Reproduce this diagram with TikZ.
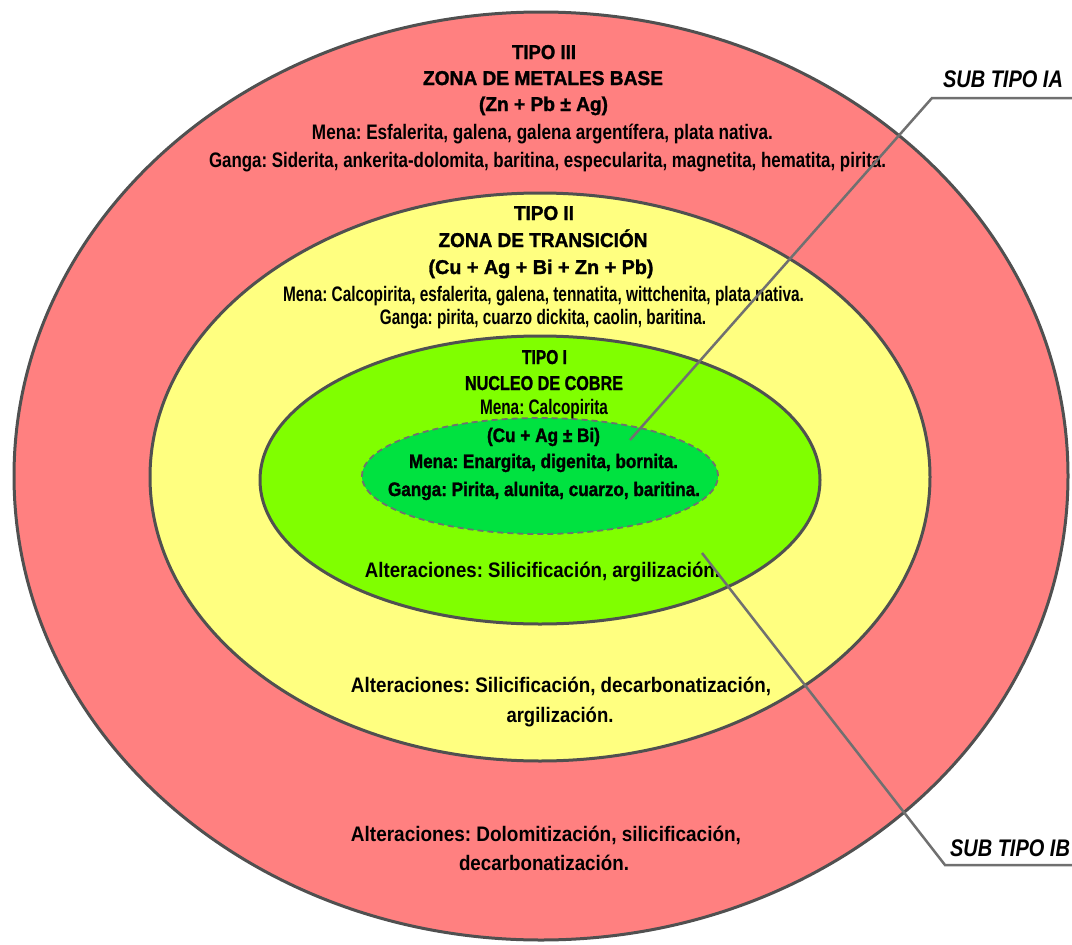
\documentclass[tikz,border=0pt]{standalone}
\usepackage{fontspec}
\usepackage{graphicx}
\setmainfont{Liberation Sans}
\newfontfamily\mdf{Liberation Sans}
\newfontfamily\bdf[FakeBold=1.5]{Liberation Sans}
\frenchspacing
% set a line at its natural height, stretched or squeezed to a given width
\newcommand\fitw[2]{\resizebox{#1pt}{\height}{#2}}
\definecolor{zonered}{RGB}{255,128,128}
\definecolor{zoneyellow}{RGB}{255,255,128}
\definecolor{zonegreen}{RGB}{128,255,0}
\definecolor{coregreen}{RGB}{0,226,64}
\definecolor{edgegray}{RGB}{80,80,80}
\definecolor{leadgray}{RGB}{112,112,112}
\tikzset{
  zone/.style={draw=edgegray, line width=3pt},
  core/.style={draw=leadgray, line width=1.8pt, dash pattern=on 6pt off 4pt},
  txt/.style={anchor=base, inner sep=0pt, text=black},
  ttl/.style={txt, font=\bdf\bfseries\fontsize{20}{20}\selectfont},
  bod/.style={txt, font=\mdf\bfseries\fontsize{21}{21}\selectfont},
  bbod/.style={txt, font=\bdf\bfseries\fontsize{19.5}{19.5}\selectfont},
  lbl/.style={txt, font=\mdf\bfseries\itshape\fontsize{24}{24}\selectfont},
  leader/.style={draw=leadgray, line width=2.5pt, line join=miter}
}
\begin{document}
\begin{tikzpicture}[x=1pt, y=-1pt]
\useasboundingbox (0,0) rectangle (1072,945);
\fill[white] (0,0) rectangle (1072,945);

% nested zones
\draw[zone, fill=zonered]    (541,476) ellipse [x radius=527pt, y radius=464pt];
\draw[zone, fill=zoneyellow] (540,477) ellipse [x radius=390pt, y radius=284pt];
\draw[zone, fill=zonegreen]  (540,480) ellipse [x radius=280pt, y radius=144pt];
\draw[core, fill=coregreen]  (540,476) ellipse [x radius=178pt, y radius=58pt];

% type III: base metals
\node[ttl] (t3a) at (544,59)  {\fitw{64}{TIPO III}};
\node[ttl] (t3b) at (543,85)  {\fitw{240}{ZONA DE METALES BASE}};
\node[ttl] (t3c) at (543.5,111) {\fitw{129}{(Zn + Pb ± Ag)}};
\node[bod] (t3d) at (542.5,139) {\fitw{461}{Mena: Esfalerita, galena, galena argentífera, plata nativa.}};
\node[bod] (t3e) at (547.5,167) {\fitw{677}{Ganga: Siderita, ankerita-dolomita, baritina, especularita, magnetita, hematita, pirita.}};

% type II: transition
\node[ttl] (t2a) at (544,220) {\fitw{60}{TIPO II}};
\node[ttl] (t2b) at (543,247) {\fitw{209}{ZONA DE TRANSICIÓN}};
\node[ttl] (t2c) at (541,274) {\fitw{225}{(Cu + Ag + Bi + Zn + Pb)}};
\node[bod] (t2d) at (543.5,301) {\fitw{521}{Mena: Calcopirita, esfalerita, galena, tennatita, wittchenita, plata nativa.}};
\node[bod] (t2e) at (543,324) {\fitw{326}{Ganga: pirita, cuarzo dickita, caolin, baritina.}};

% type I: copper core
\node[ttl] (t1a) at (544.5,364) {\fitw{45}{TIPO I}};
\node[ttl] (t1b) at (544,390) {\fitw{158}{NUCLEO DE COBRE}};
\node[bod] (t1c) at (544,414) {\fitw{128}{Mena: Calcopirita}};
\node[bbod] (t1d) at (543.5,442) {\fitw{113}{(Cu + Ag ± Bi)}};
\node[bbod] (t1e) at (543.5,468) {\fitw{269}{Mena: Enargita, digenita, bornita.}};
\node[bbod] (t1f) at (544,496) {\fitw{312}{Ganga: Pirita, alunita, cuarzo, baritina.}};

% alterations per zone
\node[bod] (a1) at (542.5,577) {\fitw{355}{Alteraciones: Silicificación, argilización.}};
\node[bod] (a2a) at (561,692) {\fitw{420}{Alteraciones: Silicificación, decarbonatización,}};
\node[bod] (a2b) at (560,722) {\fitw{107}{argilización.}};
\node[bod] (a3a) at (546,841) {\fitw{390}{Alteraciones: Dolomitización, silicificación,}};
\node[bod] (a3b) at (544,870) {\fitw{170}{decarbonatización.}};

% sub-type call-outs
\node[lbl] (ia) at (1003,87) {\fitw{120}{SUB TIPO IA}};
\node[lbl] (ib) at (1010,856) {\fitw{120}{SUB TIPO IB}};
\coordinate (iaKnee) at (932,98);
\coordinate (iaEnd)  at (1072,98);
\coordinate (iaTip)  at (630,440);
\coordinate (ibKnee) at (945,865);
\coordinate (ibEnd)  at (1072,865);
\coordinate (ibTip)  at (702,553);
\draw[leader] (iaEnd) -- (iaKnee) -- (iaTip);
\draw[leader] (ibEnd) -- (ibKnee) -- (ibTip);
\end{tikzpicture}
\end{document}
